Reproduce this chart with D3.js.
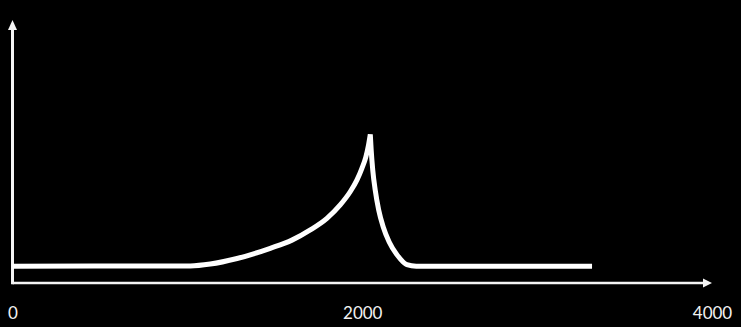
<!DOCTYPE html>
<html>
<head>
<meta charset="utf-8">
<script src="https://cdn.jsdelivr.net/npm/d3@7"></script>
<style>
  html, body { margin: 0; padding: 0; background: #000; }
  svg { display: block; }
</style>
</head>
<body>
<svg id="chart" width="741" height="327"></svg>
<script>
// Data (x in axis units, y in arbitrary 0-100 units)
const xTicks = [0, 2000, 4000];
const riseX = [0, 1017, 1131, 1284, 1474, 1598, 1703, 1798, 1874, 1931, 1970, 1998, 2020, 2036, 2046];
const riseY = [6.4, 6.5, 7.2, 9.3, 13.2, 16.3, 20.2, 24.6, 29.7, 34.7, 39.2, 43.6, 47.8, 52.5, 56.5];
const fallX = [2046, 2051, 2060, 2074, 2094, 2120, 2154, 2200, 2255, 2309, 3314];
const fallY = [56.5, 50.6, 43.0, 35.4, 27.8, 21.3, 15.6, 10.6, 7.0, 6.4, 6.4];

const W = 741, H = 327;
const svg = d3.select("#chart");
svg.append("rect").attr("width", W).attr("height", H).attr("fill", "#000");

const x = d3.scaleLinear().domain([0, 4000]).range([12.5, 712]);
const y = d3.scaleLinear().domain([0, 100]).range([283, 20]);

// Axes lines with arrows
const axisColor = "#f4f4f4";
svg.append("line")
  .attr("x1", x(0)).attr("x2", x(4000) - 6)
  .attr("y1", y(0)).attr("y2", y(0))
  .attr("stroke", axisColor).attr("stroke-width", 2.5);
svg.append("path")
  .attr("d", `M${x(4000)},${y(0)} L${x(4000) - 9},${y(0) - 4.5} L${x(4000) - 9},${y(0) + 4.5} Z`)
  .attr("fill", axisColor);

svg.append("line")
  .attr("x1", x(0)).attr("x2", x(0))
  .attr("y1", y(0) + 1.2).attr("y2", y(100) + 6)
  .attr("stroke", axisColor).attr("stroke-width", 3);
svg.append("path")
  .attr("d", `M${x(0)},${y(100)} L${x(0) - 4.5},${y(100) + 10} L${x(0) + 4.5},${y(100) + 10} Z`)
  .attr("fill", axisColor);

// Tick labels via axis
const xAxis = d3.axisBottom(x).tickValues(xTicks).tickSize(0).tickPadding(0).tickFormat(d3.format("d"));
const gx = svg.append("g").attr("transform", `translate(0, ${y(0)})`).call(xAxis);
gx.select(".domain").remove();
gx.selectAll("text")
  .attr("y", 36).attr("dy", null)
  .attr("fill", "#f2f2f2")
  .style("font-family", "Lato, 'Open Sans', sans-serif")
  .style("font-size", "17px");

// Curve
const riseData = riseX.map((d, i) => [d, riseY[i]]);
const fallData = fallX.map((d, i) => [d, fallY[i]]);
const line = d3.line().x(d => x(d[0])).y(d => y(d[1])).curve(d3.curveMonotoneX);
const dRise = line(riseData);
const dFall = line(fallData).replace(/^M[^CL]*/, "");
svg.append("path")
  .attr("d", dRise + dFall)
  .attr("fill", "none")
  .attr("stroke", "#fff")
  .attr("stroke-width", 5)
  .attr("stroke-linejoin", "bevel")
  .attr("stroke-linecap", "butt");
</script>
</body>
</html>
